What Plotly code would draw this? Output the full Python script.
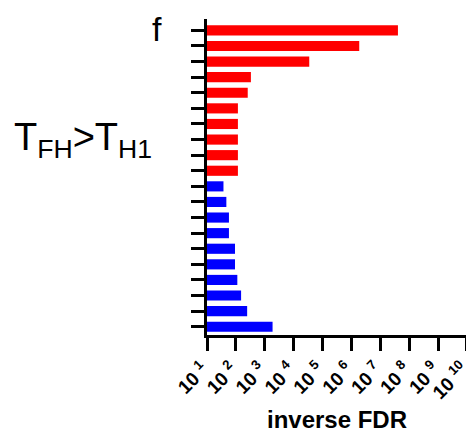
import plotly.graph_objects as go

# Bars listed top to bottom
red_values = [10**7.61, 10**6.27, 10**4.54, 10**2.52, 10**2.41,
              10**2.07, 10**2.07, 10**2.07, 10**2.07, 10**2.07]
blue_values = [10**1.57, 10**1.67, 10**1.76, 10**1.76, 10**1.97,
               10**1.97, 10**2.05, 10**2.18, 10**2.39, 10**3.27]
tick_exponents = [1, 2, 3, 4, 5, 6, 7, 8, 9, 10]

BASE = 10
n = len(red_values) + len(blue_values)
red_pos = list(range(len(red_values)))
blue_pos = list(range(len(red_values), n))

fig = go.Figure()
fig.add_trace(go.Bar(x=[v - BASE for v in red_values], y=red_pos, base=BASE, orientation="h",
                     marker=dict(color="#ff0000", line=dict(width=0)), width=0.65))
fig.add_trace(go.Bar(x=[v - BASE for v in blue_values], y=blue_pos, base=BASE, orientation="h",
                     marker=dict(color="#0000ff", line=dict(width=0)), width=0.65))

# page body has an 8px margin, so the figure is placed at (8, 8)
OFF = 8
W, H = 474 - OFF, 433 - OFF
L = 207 - OFF
T = 19 - OFF
R = W - (467 - OFF)
B = H - (335 - OFF)
pw = W - L - R
ph = H - T - B

def px2paper(px, py):
    return (px - OFF - L) / pw, (H - B - (py - OFF)) / ph

fx, fy = px2paper(157, OFF)
tx, ty = px2paper(83, 140)

fig.update_layout(
    width=W, height=H,
    margin=dict(l=L, r=R, t=T, b=B, autoexpand=False),
    plot_bgcolor="white", paper_bgcolor="white",
    showlegend=False,
    font=dict(family="Liberation Sans, Arial, sans-serif", color="black"),
    xaxis=dict(
        type="log", range=[1, 10.0005],
        tickvals=[10**k for k in tick_exponents],
        ticktext=[f"<b>10 <sup>{k}</sup></b>" for k in tick_exponents],
        tickangle=-45,
        tickfont=dict(size=19, family="Liberation Sans, Arial, sans-serif"),
        ticklabeloverflow="allow",
        ticklabelshift=-4,
        ticks="outside", ticklen=13, tickwidth=3, tickcolor="black",
        showline=True, linewidth=3, linecolor="black",
        showgrid=False, zeroline=False, automargin=False,
        title=dict(text="<b>inverse FDR</b>", font=dict(size=24), standoff=11),
    ),
    yaxis=dict(
        range=[n - 1 + 0.53, -0.73],
        tickvals=list(range(n)),
        showticklabels=False,
        ticks="outside", ticklen=13, tickwidth=3, tickcolor="black",
        showline=True, linewidth=3, linecolor="black",
        showgrid=False, zeroline=False, automargin=False,
    ),
    annotations=[
        dict(text="f", x=fx, y=fy, xref="paper", yref="paper", showarrow=False,
             xanchor="center", yanchor="top", font=dict(size=34)),
        dict(text="T<sub>FH</sub>>T<sub>H1</sub>", x=tx, y=ty, xref="paper", yref="paper",
             showarrow=False, xanchor="center", yanchor="middle", font=dict(size=38)),
    ],
)

fig.write_html("out.html")
